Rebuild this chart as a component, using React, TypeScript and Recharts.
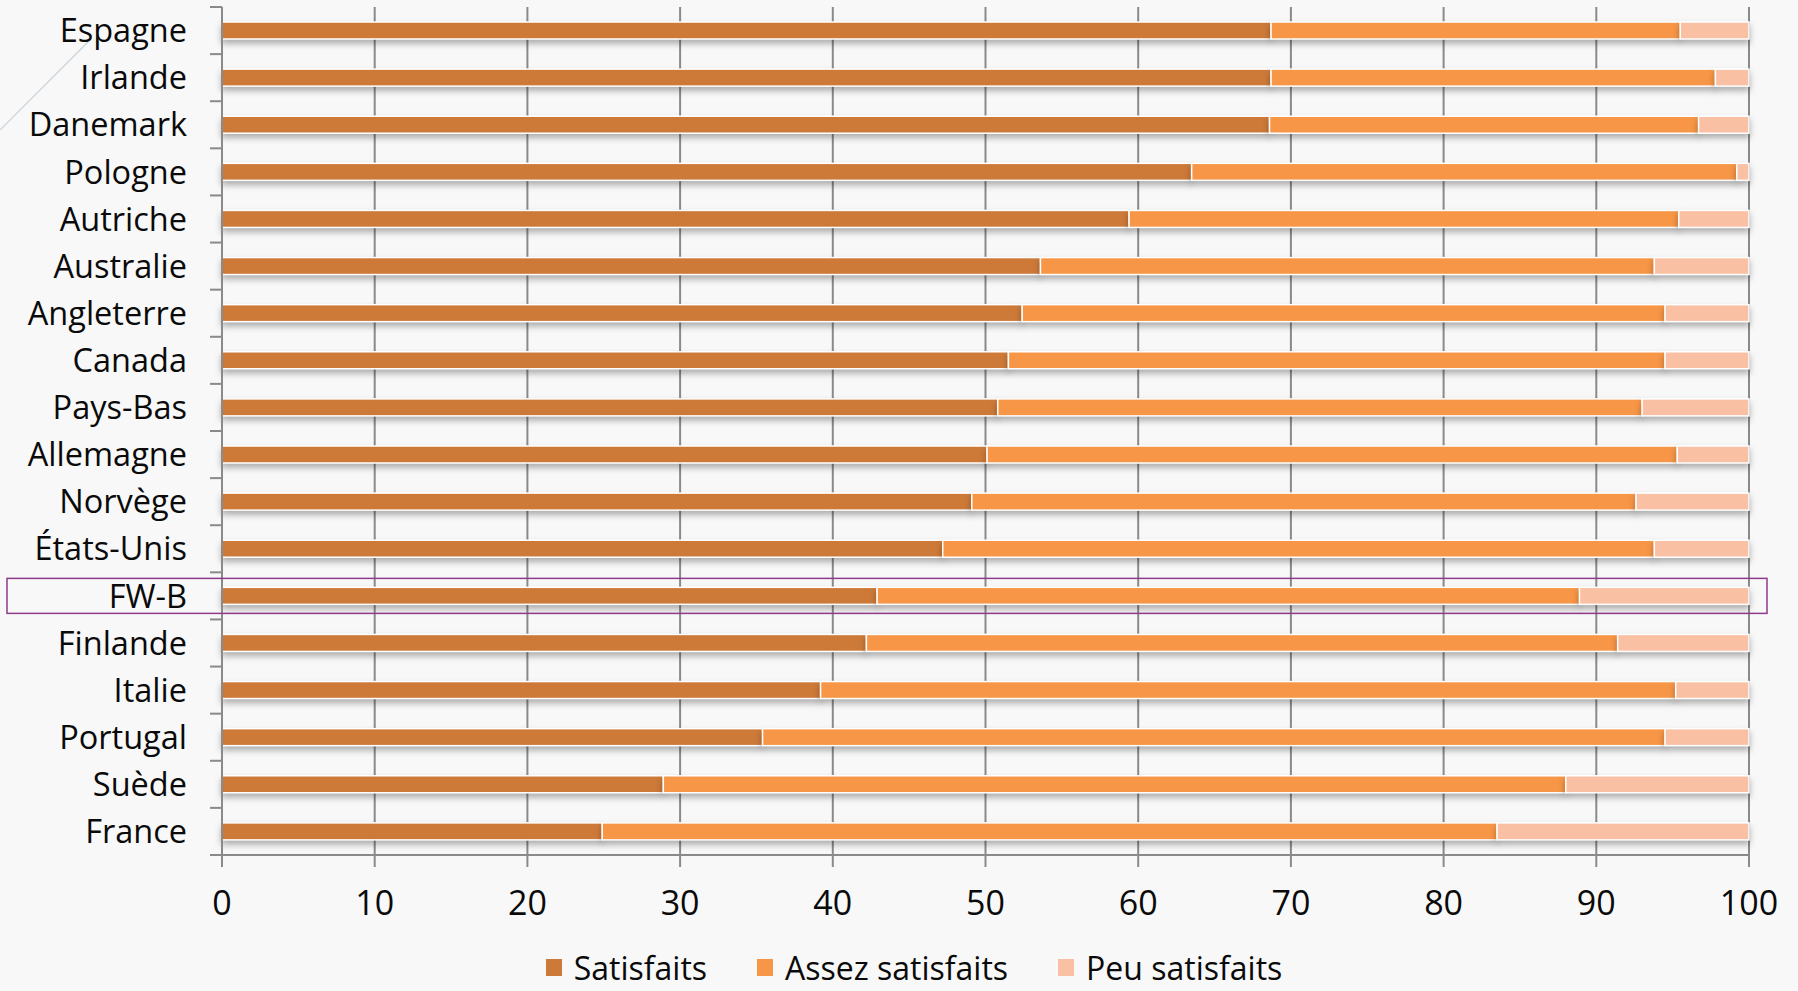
import React from 'react';
import { BarChart, Bar, XAxis, YAxis, CartesianGrid, Legend } from 'recharts';

const categories = [
  'Espagne', 'Irlande', 'Danemark', 'Pologne', 'Autriche', 'Australie',
  'Angleterre', 'Canada', 'Pays-Bas', 'Allemagne', 'Norvège', 'États-Unis',
  'FW-B', 'Finlande', 'Italie', 'Portugal', 'Suède', 'France',
];
const satisfaits = [68.7, 68.7, 68.6, 63.5, 59.4, 53.6, 52.4, 51.5, 50.8, 50.1, 49.1, 47.2, 42.9, 42.2, 39.2, 35.4, 28.9, 24.9];
const assezSatisfaits = [26.8, 29.1, 28.1, 35.7, 36.0, 40.2, 42.1, 43.0, 42.2, 45.2, 43.5, 46.6, 46.0, 49.2, 56.0, 59.1, 59.1, 58.6];
const peuSatisfaits = [4.5, 2.2, 3.3, 0.8, 4.6, 6.2, 5.5, 5.5, 7.0, 4.7, 7.4, 6.2, 11.1, 8.6, 4.8, 5.5, 12.0, 16.5];
const xTicks = [0, 10, 20, 30, 40, 50, 60, 70, 80, 90, 100];
const highlighted = 'FW-B';

const series = [
  { key: 'satisfaits', name: 'Satisfaits', color: '#CD7A39' },
  { key: 'assez', name: 'Assez satisfaits', color: '#F79646' },
  { key: 'peu', name: 'Peu satisfaits', color: '#FAC0A3' },
];

const data = categories.map((c, i) => ({
  pays: c,
  satisfaits: satisfaits[i],
  assez: assezSatisfaits[i],
  peu: peuSatisfaits[i],
}));

const W = 1798;
const H = 991;
const FONT = '"Open Sans", sans-serif';
const AXIS = '#8a8a8a';
const PLOT_TOP = 7;
const PLOT_BOTTOM = 855;
const band = (PLOT_BOTTOM - PLOT_TOP) / categories.length;

function CountryTick(props: any) {
  const { x, y, payload, index } = props;
  const isLast = index === categories.length - 1;
  return (
    <g>
      {payload.value === highlighted && (
        <rect x={x - 215} y={y - 17.5} width={1760} height={35} fill="none" stroke="#8E3A8A" strokeWidth={1.5} />
      )}
      <line x1={x - 12} x2={x} y1={y - band / 2} y2={y - band / 2} stroke={AXIS} strokeWidth={2} />
      {isLast && <line x1={x - 12} x2={x} y1={y + band / 2} y2={y + band / 2} stroke={AXIS} strokeWidth={2} />}
      <text x={x - 35} y={y} dy="0.36em" textAnchor="end" fontFamily={FONT} fontSize={32.5} fill="#0a0a0a">
        {payload.value}
      </text>
    </g>
  );
}

function ShadowBar(props: any) {
  const { x, y, width, height, fill } = props;
  if (!width || width <= 0) return null;
  return (
    <rect
      x={x}
      y={y}
      width={width}
      height={height}
      fill={fill}
      stroke="#ffffff"
      strokeWidth={1.5}
      style={{ filter: 'drop-shadow(0px 4px 3px rgba(0,0,0,0.3))' }}
    />
  );
}

function LegendContent() {
  return (
    <div
      style={{
        width: W,
        height: 50,
        boxSizing: 'border-box',
        display: 'flex',
        justifyContent: 'center',
        alignItems: 'center',
        paddingTop: 3,
        paddingLeft: 80,
        fontFamily: FONT,
        fontSize: 32,
        lineHeight: '30px',
        color: '#0a0a0a',
      }}
    >
      {series.map((s) => (
        <div key={s.key} style={{ display: 'flex', alignItems: 'center', marginRight: 50 }}>
          <span style={{ display: 'inline-block', width: 16, height: 17, background: s.color, marginRight: 12 }} />
          <span>{s.name}</span>
        </div>
      ))}
    </div>
  );
}

export default function App() {
  return (
    <div style={{ position: 'absolute', left: 0, top: 0, width: W, height: H, background: '#F8F8F8', overflow: 'hidden' }}>
      <svg width={W} height={H} style={{ position: 'absolute', left: 0, top: 0 }}>
        <line x1={0} y1={130} x2={88} y2={42} stroke="#CBD3DA" strokeWidth={1.2} />
      </svg>
      <div style={{ position: 'absolute', left: 0, top: 0 }}>
        <BarChart
          width={W}
          height={H}
          data={data}
          layout="vertical"
          margin={{ top: PLOT_TOP, right: 49, left: 0, bottom: 0 }}
          barSize={17}
        >
          <CartesianGrid horizontal={false} vertical stroke={AXIS} strokeWidth={2} />
          <XAxis
            type="number"
            domain={[0, 100]}
            ticks={xTicks}
            height={86}
            tickSize={12}
            tickMargin={24}
            axisLine={{ stroke: AXIS, strokeWidth: 2 }}
            tickLine={{ stroke: AXIS, strokeWidth: 2 }}
            tick={{ fontFamily: FONT, fontSize: 34, fill: '#0a0a0a' }}
            interval={0}
          />
          <YAxis
            type="category"
            dataKey="pays"
            width={222}
            tickSize={0}
            tickMargin={0}
            tickLine={false}
            axisLine={{ stroke: AXIS, strokeWidth: 2 }}
            tick={<CountryTick />}
            interval={0}
          />
          <Legend verticalAlign="bottom" align="left" height={50} wrapperStyle={{ left: 0, width: W }} content={<LegendContent />} />
          {series.map((s) => (
            <Bar
              key={s.key}
              dataKey={s.key}
              name={s.name}
              stackId="a"
              fill={s.color}
              shape={<ShadowBar />}
              isAnimationActive={false}
            />
          ))}
        </BarChart>
      </div>
    </div>
  );
}
